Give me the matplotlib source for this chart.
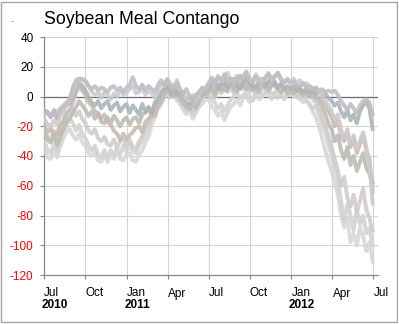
import matplotlib
matplotlib.use("Agg")
import matplotlib.pyplot as plt
import matplotlib.transforms as mtransforms
from matplotlib.patches import Rectangle
import pandas as pd

plt.rcParams['font.family'] = ['Liberation Sans', 'DejaVu Sans']

# Weekly spread readings (USD/short ton), one list per spread series
weeks = pd.date_range('2010-07-02', periods=105, freq='7D')

spread_a = [-12, -10, -14, -9, -11, -8, -6, -4, -2,
            6, 11, 12, 11,
            10, 7, 5, 7, 4, 6, 5, 3, 6, 7, 4, 6, 3, 6,
            8, 13, 7, 5, 8, 4, 7, 5, 3, 8, 11, 7,
            11, 7, 5, 9, 4, 2, 5, 0, -2, 1, 3, 6, 3,
            8, 12, 8, 13, 11, 15, 9, 12, 8, 11, 14, 12, 16, 11, 9, 13, 10, 8, 12, 15, 10, 13, 16, 11, 9, 11,
            9, 10, 8, 7, 9, 6, 7, 5, 6, 4, 5, 3, 4,
            3, 4, 1, -3, -6, -9, -5, -8, -11, -6, -3, -2, -4, -12]

spread_b = [-9, -11, -14, -10, -15, -11, -9, -6, -4,
            -1, 6, 9, 7,
            4, 0, -4, -6, -3, -8, -5, -3, -9, -6, -4, -10, -7, -5,
            -11, -6, -9, -12, -5, -10, -7, -11, -4, -1, 3, 5,
            7, 2, 5, 1, 4, 0, -3, -5, -1, -2, 3, 1, 4,
            5, 8, 9, 5, 9, 11, 6, 10, 12, 7, 5, 10, 12, 9, 7, 6, 10, 12, 7, 10, 13, 8, 6, 9, 5, 7,
            5, 7, 4, 6, 3, 5, 3, 4, 2, 3, 1, 2, -1,
            -3, -6, -4, -10, -14, -9, -16, -12, -18, -10, -6, -4, -8, -22]

spread_c = [-20, -24, -21, -27, -25, -19, -16, -11, -9,
            -4, 3, 6, 4,
            1, -4, -6, -10, -11, -15, -12, -17, -19, -23, -25, -29, -25, -29,
            -26, -24, -21, -20, -24, -17, -15, -12, -13, -7, -4, 1,
            4, 6, 2, 5, -1, -3, -6, -2, -5, -1, 2, 3, 1,
            4, 7, 3, 8, 9, 4, 8, 11, 6, 9, 12, 7, 10, 6, 9, 5, 8, 11, 6, 9, 12, 7, 5, 8, 4, 6,
            6, 4, 7, 5, 3, 5, 2, 4, 1, -1, -3, -6, -10,
            -14, -20, -16, -26, -30, -24, -34, -28, -38, -32, -26, -36, -42, -64]

spread_d = [-25, -29, -31, -26, -33, -27, -22, -17, -15,
            -11, -7, -3, -6,
            -9, -13, -10, -15, -11, -17, -18, -14, -18, -13, -16, -20, -16, -14,
            -19, -15, -14, -18, -12, -11, -8, -13, -6, -3, -1, 3,
            5, 1, 0, 4, -2, -4, -7, -9, -4, -8, -3, 1, 2,
            3, 6, 1, 7, 4, 8, 4, 9, 5, 3, 8, 10, 5, 8, 4, 7, 3, 6, 9, 4, 7, 10, 5, 3, 6, 2,
            4, 2, 5, 3, 1, 3, 0, 2, -1, -3, -7, -12, -18,
            -22, -30, -26, -36, -42, -34, -46, -40, -50, -44, -38, -48, -52, -58]

spread_e = [-30, -36, -38, -32, -37, -30, -23, -20, -15,
            -18, -23, -19, -25,
            -28, -33, -36, -33, -39, -41, -36, -41, -36, -40, -34, -39, -33, -37,
            -32, -37, -38, -33, -30, -25, -21, -14, -10, -5, -3, 2,
            5, 1, 4, -1, -3, -7, -9, -6, -12, -8, -4, -2, 1,
            2, -2, -4, -8, -5, -10, -6, -2, 0, 3, -1, 1, 4, -1, -3, 1, 4, 0, 2, 5, 1, 3, -1, 2, -2, 1,
            1, 3, 0, -2, 1, -3, -5, -8, -6, -12, -18, -24, -32,
            -40, -48, -56, -70, -84, -72, -80, -90, -76, -86, -80, -92, -88, -100]

spread_f = [-35, -41, -42, -36, -41, -34, -28, -24, -22,
            -26, -29, -25, -31,
            -33, -38, -40, -37, -43, -44, -39, -44, -39, -42, -37, -42, -43, -39,
            -38, -43, -44, -39, -36, -31, -27, -19, -14, -8, -5, -1,
            2, -1, 3, -3, -5, -9, -12, -9, -15, -11, -7, -5, -2,
            -2, -7, -9, -13, -10, -16, -11, -7, -5, -2, -6, -1, 0, -4, -1, 3, -2, 0, 4, 1, -2, 2, 5, 1, -1, 2,
            2, 0, 3, -1, -4, -2, -6, -10, -14, -20, -28, -36, -44,
            -50, -58, -66, -80, -88, -82, -98, -92, -100, -88, -94, -104, -98, -111]

spread_g = [-15, -19, -20, -16, -19, -13, -10, -5, -3,
            3, 9, 12, 12,
            11, 7, 3, 1, 3, -1, 3, 1, -2, 2, 0, 4, 1, 2,
            5, 7, 2, 3, 6, 1, 4, 2, -1, 4, 8, 9,
            12, 8, 7, 11, 5, 2, -2, -3, 1, -2, 1, 5, 6,
            9, 13, 10, 14, 10, 13, 16, 11, 10, 14, 11, 14, 17, 12, 11, 15, 12, 9, 13, 16, 11, 14, 16, 12, 10, 12,
            10, 12, 9, 11, 8, 9, 7, 5, 6, 3, 1, -3, -6,
            -10, -16, -12, -22, -28, -22, -32, -26, -36, -30, -24, -34, -46, -72]

spread_h = [-22, -27, -29, -23, -29, -22, -18, -13, -10,
            -8, -13, -10, -15,
            -18, -23, -25, -22, -28, -30, -27, -32, -33, -29, -34, -30, -29, -33,
            -29, -34, -35, -30, -27, -21, -18, -13, -10, -5, -2, 4,
            6, 3, 1, 4, -2, -5, -7, -4, -10, -6, -3, 1, 2,
            1, 4, -1, 5, 2, 6, 3, 7, 2, 4, 8, 5, 9, 4, 6, 2, 5, 9, 6, 3, 8, 10, 5, 3, 5, 2,
            4, 2, 5, 1, 3, 0, 2, -2, -4, -8, -14, -20, -26,
            -34, -42, -50, -60, -54, -68, -74, -66, -78, -70, -62, -76, -82, -90]

series = [spread_f, spread_e, spread_h, spread_d, spread_c, spread_b, spread_g, spread_a]
colors = ['#d8d8d8', '#d3d3d3', '#d0cccb', '#b9beb4', '#cbbab1', '#abb5b9', '#cdcacf', '#bebec3']

month_ticks = pd.date_range('2010-07-01', '2012-07-01', freq='QS-JAN')
month_labels = [d.strftime('%b') for d in month_ticks]
year_marks = [pd.Timestamp('2010-07-01'), pd.Timestamp('2011-01-01'), pd.Timestamp('2012-01-01')]
year_labels = ['2010', '2011', '2012']
y_ticks = [-120, -100, -80, -60, -40, -20, 0, 20, 40]

fig = plt.figure(figsize=(3.99, 3.24), dpi=100)
ax = fig.add_axes([44 / 399, 1 - 275 / 324, 334 / 399, 238 / 324])

for vals, col in zip(series, colors):
    ax.plot(weeks, vals, color=col, lw=2.8, alpha=0.9, solid_joinstyle='round', zorder=3)

ax.axhline(0, color='#6e6e6e', lw=0.9, zorder=2)

ax.set_xlim(pd.Timestamp('2010-07-01'), pd.Timestamp('2012-07-11'))
ax.set_ylim(-120, 40)

ax.set_xticks(month_ticks)
ax.set_xticklabels(month_labels)
ax.set_yticks(y_ticks)
ax.set_yticklabels([str(v) for v in y_ticks])
for lab, v in zip(ax.get_yticklabels(), y_ticks):
    lab.set_color('#ff0000' if v < 0 else '#000000')

shift = mtransforms.ScaledTranslation(-2 / 72, 0, fig.dpi_scale_trans)
for lab in ax.get_xticklabels():
    lab.set_horizontalalignment('left')
    lab.set_transform(lab.get_transform() + shift)

ax.tick_params(axis='both', which='major', direction='out', length=3, width=0.8,
               color='#888888', labelsize=8.5)
ax.tick_params(axis='y', pad=4.5)
ax.tick_params(axis='x', pad=6)

ax.grid(True, color='#d4d4d4', lw=0.8, zorder=0)
ax.set_axisbelow(True)
for side in ('top', 'right'):
    ax.spines[side].set_visible(False)
for side in ('left', 'bottom'):
    ax.spines[side].set_color('#888888')
    ax.spines[side].set_linewidth(0.9)

for d, txt in zip(year_marks, year_labels):
    ax.annotate(txt, xy=(d, 0), xycoords=('data', 'axes fraction'),
                xytext=(-2, -21.5), textcoords='offset points',
                ha='left', va='center', fontsize=8.5, fontweight='bold')

fig.text(44 / 399, 1 - 19 / 324, 'Soybean Meal Contango', fontsize=12.8,
         ha='left', va='center')
fig.text(12 / 399, 1 - 21 / 324, '-', fontsize=7, color='#999999',
         ha='center', va='center')

fig.patches.append(Rectangle((1 / 399, 2.5 / 324), 396 / 399, 320 / 324,
                             transform=fig.transFigure, fill=False,
                             edgecolor='#a6a6a6', lw=1.0))

fig.savefig('out.png', dpi=100)
